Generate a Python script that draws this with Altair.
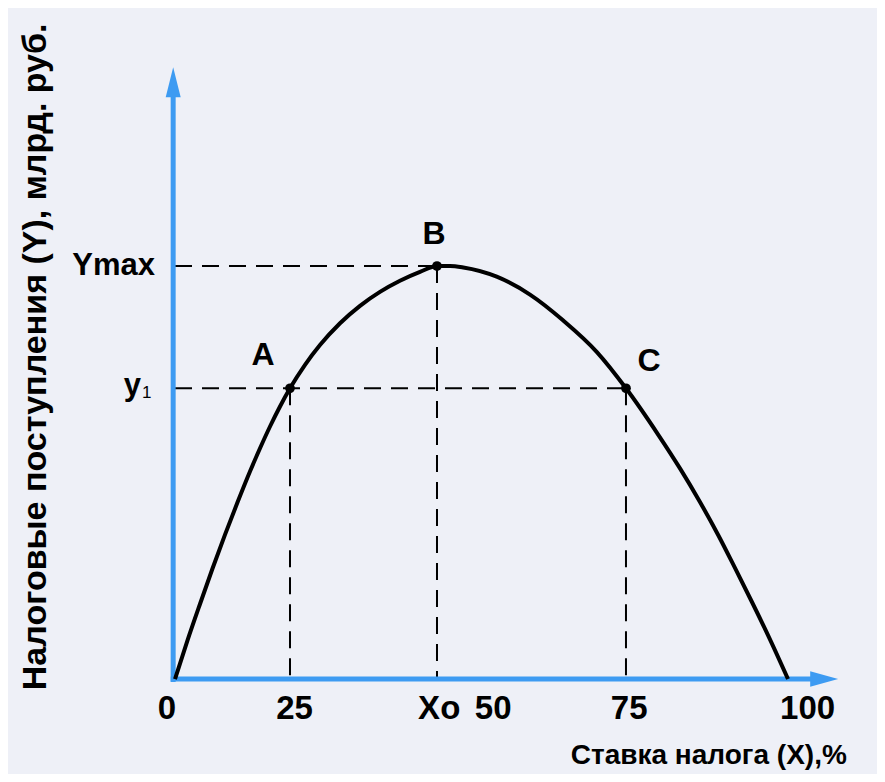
import altair as alt
import pandas as pd

# Laffer curve (x: share of the axis 0..100, y: Ymax = 100)
curve_x = [0, 2.04, 4.08, 6.12, 8.16, 10.20, 12.23, 13.87, 15.50, 17.13, 18.76,
           21.21, 23.65, 26.92, 30.18, 33.44, 36.70, 39.97, 42.74, 44.86,
           47.03, 52.48, 57.91, 63.34, 68.79, 73.57,
           78.84, 82.38, 85.64, 88.63, 91.35, 94.08, 96.79, 100]
curve_y = [0, 9.35, 18.16, 26.76, 34.96, 42.78, 50.24, 55.87, 61.14, 65.98, 70.39,
           76.08, 80.87, 86.15, 90.36, 93.73, 96.42, 98.57, 100.0, 100.0,
           99.64, 97.41, 93.08, 86.80, 79.23, 70.39,
           59.13, 50.99, 42.86, 34.82, 26.90, 18.77, 10.46, 0]

point_names = ["A", "B", "C"]
point_x = [18.76, 42.74, 73.57]
point_y = [70.39, 100, 70.39]

tick_labels = ["0", "25", "Xo", "50", "75", "100"]
tick_pos = [-1.3, 19.5, 43.1, 51.9, 74.1, 103.2]

level_labels = ["Ymax", "y"]
level_values = [100, 70.39]

y_title = "Налоговые поступления (Y), млрд. руб."
x_title = "Ставка налога (X),%"

FONT = "Liberation Sans"
BLUE = "#3d9bf2"

curve = pd.DataFrame({"x": curve_x, "y": curve_y})
pts = pd.DataFrame({"name": point_names, "x": point_x, "y": point_y})
ticks = pd.DataFrame({"label": tick_labels, "x": tick_pos})
levels = pd.DataFrame({"label": level_labels, "y": level_values})

# plot area covers the whole page area; 0 -> x 175px, 100 -> x 788px; y 0 -> 679px, 100 -> 266px
xs = alt.Scale(domain=[-27.243, 114.519], nice=False, zero=False)
ys = alt.Scale(domain=[-23.00, 162.47], nice=False, zero=False)
X = lambda f: alt.X(f, type="quantitative", scale=xs, axis=None)
Y = lambda f: alt.Y(f, type="quantitative", scale=ys, axis=None)

# axes (lines + arrowheads)
axes_df = pd.DataFrame({"x": [-0.3, -0.7], "x2": [-0.3, 104.0],
                        "y": [-0.7, 0.0], "y2": [141.0, 0.0]})
axes = alt.Chart(axes_df).mark_rule(color=BLUE, strokeWidth=5).encode(
    x=X("x"), x2="x2", y=Y("y"), y2="y2")
arrow_up = alt.Chart(pd.DataFrame({"x": [-0.3], "y": [144.5]})).mark_point(
    shape="M-0.5,1L0,-1L0.5,1Z", size=900, filled=True, color=BLUE, opacity=1
).encode(x=X("x"), y=Y("y"))
arrow_right = alt.Chart(pd.DataFrame({"x": [105.9], "y": [0.0]})).mark_point(
    shape="M-1,-0.55L1,0L-1,0.55Z", size=784, filled=True, color=BLUE, opacity=1
).encode(x=X("x"), y=Y("y"))

# dashed guide lines
h_df = pd.DataFrame({"x": [0.0, 0.0], "x2": [point_x[1], point_x[2]],
                     "y": [point_y[1], point_y[0]]})
v_df = pd.DataFrame({"x": point_x, "y": point_y, "y2": [0.0, 0.0, 0.0]})
hdash = alt.Chart(h_df).mark_rule(color="black", strokeWidth=2, strokeDash=[17, 10]).encode(
    x=X("x"), x2="x2", y=Y("y"))
vdash = alt.Chart(v_df).mark_rule(color="black", strokeWidth=2, strokeDash=[17, 10]).encode(
    x=X("x"), y=Y("y"), y2="y2")

line = alt.Chart(curve).mark_line(color="black", strokeWidth=4, interpolate="monotone").encode(
    x=X("x"), y=Y("y"))
dots = alt.Chart(pts).mark_point(shape="circle", size=95, filled=True, color="black", opacity=1).encode(
    x=X("x"), y=Y("y"))

def ptlabel(name, dx, dy):
    return alt.Chart(pts).transform_filter(alt.datum.name == name).mark_text(
        font=FONT, fontWeight="bold", fontSize=32, color="black", dx=dx, dy=dy,
        baseline="middle", align="center").encode(x=X("x"), y=Y("y"), text="name:N")

labA = ptlabel("A", -27, -33)
labB = ptlabel("B", -3, -32)
labC = ptlabel("C", 23, -27)

tick_text = alt.Chart(ticks).mark_text(
    font=FONT, fontWeight="bold", fontSize=33, color="black", baseline="middle", align="center"
).encode(x=X("x"), y=alt.Y("yy:Q", scale=ys, axis=None), text="label:N").transform_calculate(yy="-7.2")

ymax_text = alt.Chart(levels).transform_filter(alt.datum.label == "Ymax").mark_text(
    font=FONT, fontWeight="bold", fontSize=31, color="black", baseline="middle", align="right", dx=-20
).encode(x=alt.X("xx:Q", scale=xs, axis=None), y=Y("y"), text="label:N").transform_calculate(xx="0")
y1_text = alt.Chart(levels).transform_filter(alt.datum.label == "y").mark_text(
    font=FONT, fontWeight="bold", fontSize=31, color="black", baseline="middle", align="right", dx=-34, dy=-2
).encode(x=alt.X("xx:Q", scale=xs, axis=None), y=Y("y"), text="label:N").transform_calculate(xx="0")
y1_sub = alt.Chart(levels).transform_filter(alt.datum.label == "y").mark_text(
    font=FONT, fontSize=17, color="black", baseline="middle", align="left", dx=-33, dy=5, text="1"
).encode(x=alt.X("xx:Q", scale=xs, axis=None), y=Y("y")).transform_calculate(xx="0")

titles = pd.DataFrame({"t": [y_title, x_title], "x": [-22.6, 109.6], "y": [78.0, -18.6]})
ytitle = alt.Chart(titles).transform_filter(alt.datum.t == y_title).mark_text(
    font=FONT, fontWeight="bold", fontSize=34, color="black", angle=270,
    baseline="middle", align="center").encode(x=X("x"), y=Y("y"), text="t:N")
xtitle = alt.Chart(titles).transform_filter(alt.datum.t == x_title).mark_text(
    font=FONT, fontWeight="bold", fontSize=28, color="black",
    baseline="middle", align="right").encode(x=X("x"), y=Y("y"), text="t:N")

chart = alt.layer(
    hdash, vdash, axes, arrow_up, arrow_right, line, dots,
    labA, labB, labC, tick_text, ymax_text, y1_text, y1_sub, ytitle, xtitle
).properties(
    width=869, height=766, background="#eef0f7", padding=0,
    autosize=alt.AutoSizeParams(type="none")
).configure_view(stroke=None)

chart.save("out.html", embed_options={"renderer": "svg", "actions": False})
